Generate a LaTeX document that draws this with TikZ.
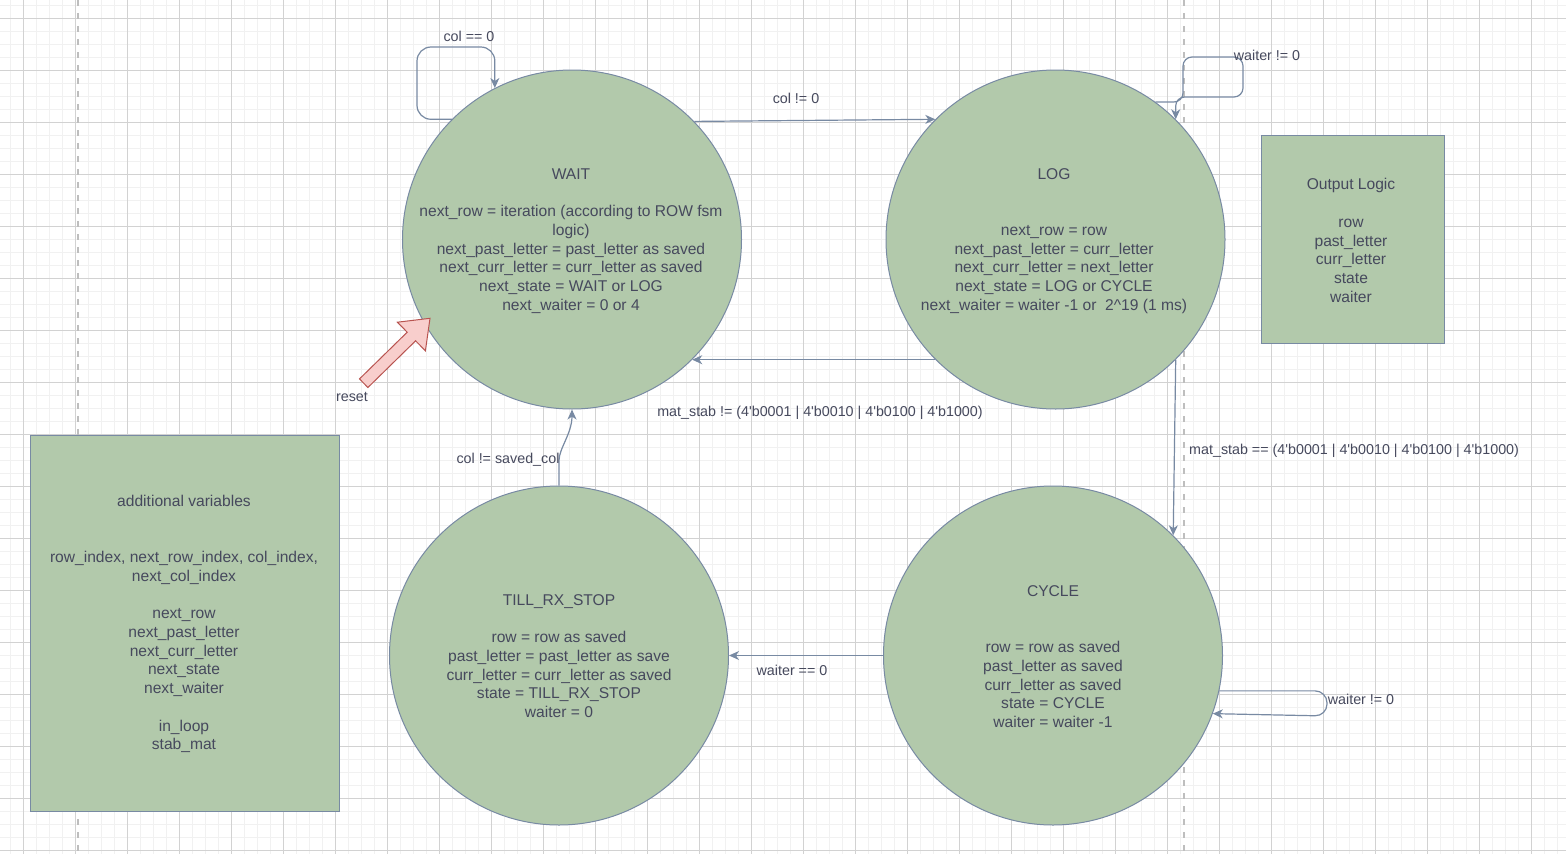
\documentclass[tikz,border=0pt]{standalone}
\usepackage{fontspec}
\setmainfont{Liberation Sans}
\usetikzlibrary{arrows.meta}
\definecolor{gridminor}{HTML}{F1F1F1}
\definecolor{gridmajor}{HTML}{D2D2D2}
\definecolor{fillg}{HTML}{B2C9AB}
\definecolor{strk}{HTML}{788AA3}
\definecolor{txtc}{HTML}{46495D}
\definecolor{dashc}{HTML}{BEBEBE}
\definecolor{resetfill}{HTML}{F8CECC}
\definecolor{resetdraw}{HTML}{B85450}
\tikzset{
  statec/.style={circle, draw=strk, fill=fillg, line width=1pt, minimum size=339pt, inner sep=0pt},
  boxr/.style={rectangle, draw=strk, fill=fillg, line width=1pt, inner sep=0pt},
  ntext/.style={text=txtc, align=center, font=\fontsize{15.6}{18.75}\selectfont, inner sep=0pt},
  elabel/.style={text=txtc, font=\fontsize{14.3}{17}\selectfont, inner sep=0pt},
  conn/.style={draw=strk, line width=1.2pt, -{Stealth[length=10pt,width=9pt,inset=3pt]}},
  minorline/.style={draw=gridminor, line width=1.6pt},
  majorline/.style={draw=gridmajor, line width=1pt},
  sepline/.style={draw=dashc, line width=2pt, dash pattern=on 6pt off 7pt}
}
\begin{document}
\begin{tikzpicture}[x=1pt,y=-1pt]
\useasboundingbox[fill=white] (0,0) rectangle (1566,854);
% grid
\foreach \i in {-1,...,119} { \draw[minorline] ({23.3+13*\i},0) -- ({23.3+13*\i},854); }
\foreach \i in {-1,...,64} { \draw[minorline] (0,{18.3+13*\i}) -- (1566,{18.3+13*\i}); }
\foreach \i in {0,...,29} { \draw[majorline] ({23.3+52*\i},0) -- ({23.3+52*\i},854); }
\foreach \i in {0,...,16} { \draw[majorline] (0,{18.3+52*\i}) -- (1566,{18.3+52*\i}); }
% separators
\draw[sepline] (77.7,0) -- (77.7,854);
\draw[sepline] (1183.5,0) -- (1183.5,854);
% states
\node[statec] (wait) at (572,239.5) {};
\node[statec] (log) at (1055.5,239.5) {};
\node[statec] (till) at (559,655.5) {};
\node[statec] (cycle) at (1053,655.5) {};
\node[boxr, minimum width=183pt, minimum height=208pt] (outl) at (1352.5,239) {};
\node[boxr, minimum width=309pt, minimum height=376pt] (addv) at (184.5,623) {};
% texts
\node[ntext] (waitt) at (571,241) {WAIT\\~\\next\_row = iteration (according to ROW fsm\\logic)\\next\_past\_letter = past\_letter as saved\\next\_curr\_letter = curr\_letter as saved\\next\_state = WAIT or LOG\\next\_waiter = 0 or 4};
\node[ntext] (logt) at (1054,241) {LOG\\~\\~\\next\_row = row\\next\_past\_letter = curr\_letter\\next\_curr\_letter = next\_letter\\next\_state = LOG or CYCLE\\next\_waiter = waiter -1 or\ \ 2\textasciicircum 19 (1 ms)};
\node[ntext] (outlt) at (1351,240.5) {Output Logic\\~\\row\\past\_letter\\curr\_letter\\state\\waiter};
\node[ntext] (tillt) at (559,656) {TILL\_RX\_STOP\\~\\row = row as saved\\past\_letter = past\_letter as save\\curr\_letter = curr\_letter as saved\\state = TILL\_RX\_STOP\\waiter = 0};
\node[ntext] (cyclet) at (1053,656.5) {CYCLE\\~\\~\\row = row as saved\\past\_letter as saved\\curr\_letter as saved\\state = CYCLE\\waiter = waiter -1};
\node[ntext] (addvt) at (184,624) {additional variables\\~\\~\\row\_index, next\_row\_index, col\_index,\\next\_col\_index\\~\\next\_row\\next\_past\_letter\\next\_curr\_letter\\next\_state\\next\_waiter\\~\\in\_loop\\stab\_mat};
% reset block arrow
\draw[fill=resetfill, draw=resetdraw, line width=1pt, line join=miter]
  (367.9,387.5) -- (415.6,340.8) -- (425.4,350.8) -- (430,318.3) -- (397.4,322.2) -- (407.2,332.2) -- (359.5,378.9) -- cycle;
\node[elabel] (resetl) at (352,397) {reset};
% connectors
\draw[conn, rounded corners=14pt] (wait.135) -| (417,47) -| (wait.117);
\draw[conn] (wait.44.5) -- (log.135);
\draw[conn, rounded corners=9pt] (log.54) -| (1183,57) -| (1243,97) -| (log.45);
\draw[conn] (log.225) -- (wait.-45);
\draw[conn] (log.-45) -- (cycle.45);
\draw[conn, rounded corners=12pt] (cycle.-12.6) -| (1327,716) -- (cycle.-20.5);
\draw[conn] (cycle.west) -- (till.east);
\draw[conn] (till.north) -- ++(0,-25) .. controls +(0,-12) and +(0,24) .. (wait.south);
% labels
\node[elabel] (l1) at (469,36) {col == 0};
\node[elabel] (l2) at (796,98) {col != 0};
\node[elabel] (l3) at (1267,55) {waiter != 0};
\node[elabel] (l4) at (820,413) {mat\_stab != (4\textquotesingle b0001 | 4\textquotesingle b0010 | 4\textquotesingle b0100 | 4\textquotesingle b1000)};
\node[elabel, anchor=west] (l5) at (1189,451) {mat\_stab == (4\textquotesingle b0001 | 4\textquotesingle b0010 | 4\textquotesingle b0100 | 4\textquotesingle b1000)};
\node[elabel] (l6) at (1361,699) {waiter != 0};
\node[elabel] (l7) at (792,670) {waiter == 0};
\node[elabel] (l8) at (508,460) {col != saved\_col};
\end{tikzpicture}
\end{document}
